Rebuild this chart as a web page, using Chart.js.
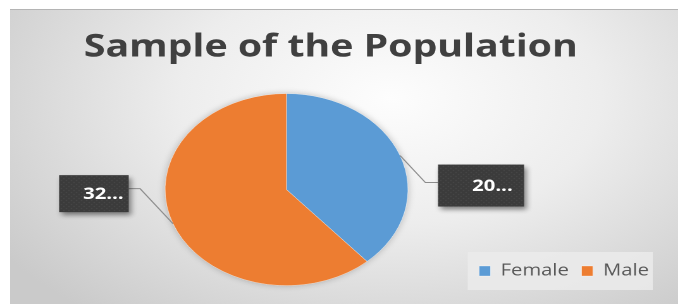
<!DOCTYPE html>
<html>
<head>
<meta charset="utf-8">
<script src="https://cdn.jsdelivr.net/npm/chart.js@4.4.1/dist/chart.umd.min.js"></script>
<style>
  html, body { margin: 0; padding: 0; background: #fff; }
  body { width: 678px; height: 304px; position: relative; overflow: hidden; }
  #bg {
    position: absolute; left: 10px; top: 9px; right: 0; bottom: 0;
    border-top: 1px solid #b4b4b4;
    background: radial-gradient(ellipse 70% 95% at 57% 30%, #fdfdfd 0%, #ededed 45%, #cacaca 100%);
  }
  /* the original picture is stretched sideways, so the whole chart is too */
  #wrap { position: absolute; left: 0; top: 0; width: 536px; height: 304px;
          transform: scaleX(1.265); transform-origin: 0 0; }
</style>
</head>
<body>
<div id="bg"></div>
<div id="wrap"><canvas id="chart"></canvas></div>
<script>
const categories = ['Female', 'Male'];
const values = [20, 32];
const sliceColors = ['#5b9bd5', '#ed7d31'];
const titleText = 'Sample of the Population';

// dotted dark fill used by the data label boxes
function makeDots() {
    const c = document.createElement('canvas');
    c.width = 4; c.height = 4;
    const g = c.getContext('2d');
    g.fillStyle = '#3b3b3b';
    g.fillRect(0, 0, 4, 4);
    g.fillStyle = '#4d4d4d';
    g.fillRect(0, 0, 1, 1);
    g.fillRect(2, 2, 1, 1);
    return c;
}

// moves the plot area sideways (pie sits left of the title centre)
const plotShift = {
    id: 'plotShift',
    afterLayout(chart, args, opts) {
        chart.chartArea.left += opts.x;
        chart.chartArea.right += opts.x;
    }
};

// soft glow under the pie + light box behind the legend
const backdrop = {
    id: 'backdrop',
    beforeDraw(chart) {
        const hb = chart.legend && chart.legend.legendHitBoxes;
        if (!hb || !hb.length) return;
        const ctx = chart.ctx;
        const first = hb[0], last = hb[hb.length - 1];
        const cy = first.top + first.height / 2;
        ctx.save();
        ctx.fillStyle = 'rgba(235,235,235,0.85)';
        ctx.fillRect(first.left - 9, cy - 19, last.left + last.width + 3 - (first.left - 9), 38);
        ctx.restore();
    },
    beforeDatasetsDraw(chart) {
        const arc = chart.getDatasetMeta(0).data[0];
        if (!arc) return;
        const p = arc.getProps(['x', 'y', 'outerRadius'], true);
        const ctx = chart.ctx;
        ctx.save();
        ctx.shadowColor = 'rgba(0,0,0,0.28)';
        ctx.shadowBlur = 7 * chart.currentDevicePixelRatio;
        ctx.fillStyle = '#d8d8d8';
        ctx.beginPath();
        ctx.arc(p.x, p.y, p.outerRadius - 0.5, 0, Math.PI * 2);
        ctx.fill();
        ctx.restore();
    }
};

// leader lines and dark callout boxes with truncated values
const leaderLabels = {
    id: 'leaderLabels',
    afterDatasetsDraw(chart, args, opts) {
        const ctx = chart.ctx;
        const dpr = chart.currentDevicePixelRatio;
        const pattern = ctx.createPattern(makeDots(), 'repeat');
        chart.getDatasetMeta(0).data.forEach((arc, i) => {
            const c = opts.leaders[i];
            const p = arc.getProps(['x', 'y', 'startAngle', 'endAngle', 'outerRadius'], true);
            const mid = (p.startAngle + p.endAngle) / 2;
            const ex = p.x + Math.cos(mid) * p.outerRadius;
            const ey = p.y + Math.sin(mid) * p.outerRadius;
            const kx = ex + c.dx, ky = ey + c.dy;
            const bx = c.side > 0 ? kx + c.gap : kx - c.gap - c.w;
            const by = ky + c.shift - c.h / 2;

            ctx.save();
            ctx.strokeStyle = '#8c8c8c';
            ctx.lineWidth = 1;
            ctx.beginPath();
            ctx.moveTo(ex, ey);
            ctx.lineTo(kx, ky);
            ctx.lineTo(c.side > 0 ? bx : bx + c.w, ky);
            ctx.stroke();

            ctx.shadowColor = 'rgba(0,0,0,0.45)';
            ctx.shadowBlur = 5 * dpr;
            ctx.shadowOffsetX = 2 * dpr;
            ctx.shadowOffsetY = 3 * dpr;
            ctx.fillStyle = pattern;
            ctx.fillRect(bx, by, c.w, c.h);
            ctx.restore();

            ctx.save();
            ctx.fillStyle = '#ffffff';
            ctx.font = 'bold 16px "Open Sans"';
            ctx.textAlign = 'right';
            ctx.textBaseline = 'middle';
            ctx.fillText(String(values[i]) + '...', bx + c.w - c.pad, by + c.h / 2 + 1);
            ctx.restore();
        });
    }
};

Chart.defaults.font.family = '"Open Sans", sans-serif';

new Chart(document.getElementById('chart'), {
    type: 'pie',
    data: {
        labels: categories,
        datasets: [{
            data: values,
            backgroundColor: sliceColors,
            borderColor: 'rgba(255,255,255,0.6)',
            borderWidth: 0.5,
            clip: false
        }]
    },
    plugins: [plotShift, backdrop, leaderLabels],
    options: {
        responsive: true,
        maintainAspectRatio: false,
        devicePixelRatio: 2,
        animation: false,
        events: [],
        radius: 96,
        layout: { padding: { left: 0, right: 13, top: 0, bottom: 15 } },
        plugins: {
            title: {
                display: true,
                text: titleText,
                color: '#404040',
                font: { size: 31, weight: 'bold' },
                padding: { top: 29, bottom: 60 }
            },
            legend: {
                position: 'bottom',
                align: 'end',
                labels: {
                    boxWidth: 9,
                    boxHeight: 10,
                    padding: 10,
                    color: '#595959',
                    font: { size: 16 }
                }
            },
            tooltip: { enabled: false },
            plotShift: { x: -35 },
            leaderLabels: {
                leaders: [
                    { dx: 20, dy: 27, gap: 10, w: 68, h: 42, shift: 3, side: 1, pad: 9 },
                    { dx: -26, dy: -35, gap: 9, w: 55, h: 37, shift: 5, side: -1, pad: 4 }
                ]
            }
        }
    }
});
</script>
</body>
</html>
